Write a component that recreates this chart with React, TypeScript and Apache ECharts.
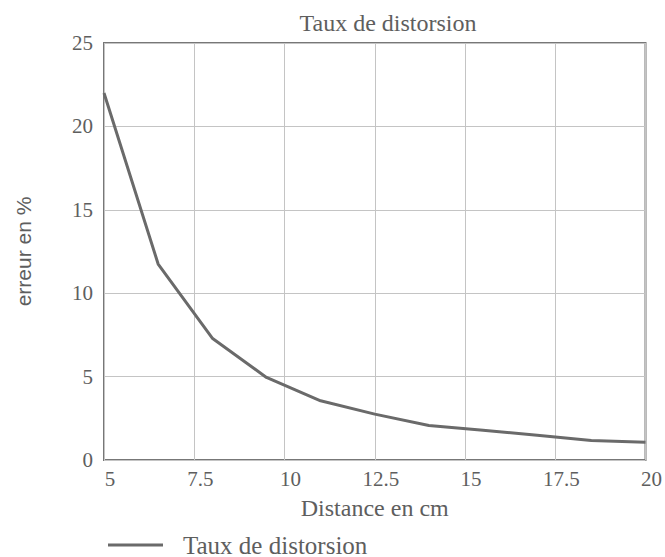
import React, { useEffect, useRef } from "react";
import * as echarts from "echarts";

const distances = [5, 6.5, 8, 9.5, 11, 12.5, 14, 15.5, 17, 18.5, 20];
const distortion = [22, 11.75, 7.3, 4.95, 3.55, 2.75, 2.07, 1.78, 1.48, 1.17, 1.07];
const seriesName = "Taux de distorsion";
const chartTitle = "Taux de distorsion";
const xName = "Distance en cm";
const yName = "erreur en %";

const serif = "Liberation Serif";
const sans = "Liberation Sans";
const textColor = "#5e5e5e";

export default function App() {
  const ref = useRef<HTMLDivElement>(null);
  useEffect(() => {
    if (!ref.current) return;
    const chart = echarts.init(ref.current, undefined, { renderer: "svg" });
    chart.setOption({
      animation: false,
      backgroundColor: "#fff",
      title: {
        text: chartTitle,
        left: 383,
        textAlign: "center",
        top: 6,
        textStyle: { fontFamily: serif, fontSize: 24, fontWeight: "normal", color: textColor },
      },
      grid: {
        left: 104,
        right: 19,
        top: 43,
        bottom: 97,
        show: true,
        borderColor: "#777",
        borderWidth: 2,
        backgroundColor: "transparent",
      },
      legend: {
        left: 103,
        top: 526,
        itemWidth: 55,
        itemHeight: 3,
        icon: "rect",
        itemStyle: { color: "#6a6a6a" },
        textStyle: { fontFamily: serif, fontSize: 25, lineHeight: 28, color: textColor, padding: [0, 0, 0, 15] },
        data: [seriesName],
      },
      xAxis: {
        type: "value",
        min: 5,
        max: 20,
        interval: 2.5,
        name: xName,
        nameLocation: "middle",
        nameGap: 36,
        nameTextStyle: { fontFamily: serif, fontSize: 24, color: textColor },
        axisLine: { show: false },
        axisTick: { show: false },
        axisLabel: {
          fontFamily: serif,
          fontSize: 21,
          color: textColor,
          margin: 8,
          padding: [0, 0, 0, 12],
        },
        splitLine: { show: true, lineStyle: { color: "#c4c4c4", width: 1 } },
      },
      yAxis: {
        type: "value",
        min: 0,
        max: 25,
        interval: 5,
        name: yName,
        nameLocation: "middle",
        nameGap: 70,
        nameTextStyle: { fontFamily: sans, fontSize: 21, color: textColor },
        axisLine: { show: false },
        axisTick: { show: false },
        axisLabel: {
          fontFamily: serif,
          fontSize: 21,
          color: textColor,
          margin: 11,
          padding: [8, 0, 0, 0],
        },
        splitLine: { show: true, lineStyle: { color: "#c4c4c4", width: 1 } },
      },
      series: [
        {
          name: seriesName,
          type: "line",
          data: distances.map((d, i) => [d, distortion[i]]),
          symbol: "none",
          lineStyle: { color: "#6a6a6a", width: 3 },
          itemStyle: { color: "#6a6a6a" },
        },
      ],
    });
    return () => chart.dispose();
  }, []);
  return <div ref={ref} style={{ width: 665, height: 557, position: "absolute", left: 0, top: 0 }} />;
}
